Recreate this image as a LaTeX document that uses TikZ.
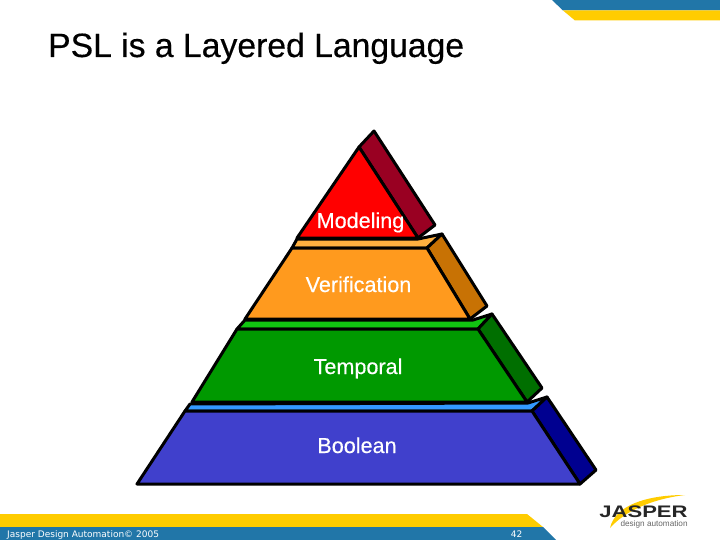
\documentclass[tikz,border=0pt]{standalone}
\usepackage{graphicx}
\usepackage{fontspec}
\setmainfont{Liberation Sans}
\newfontfamily\heavyfont[FakeBold=0.35]{Liberation Sans}
\newfontfamily\footfont{DejaVu Sans}
\usetikzlibrary{positioning}

\definecolor{jasperblue}{HTML}{2176A8}
\definecolor{jasperyellow}{HTML}{FFCC00}
\definecolor{redfront}{HTML}{FF0000}
\definecolor{redside}{HTML}{990022}
\definecolor{orangefront}{HTML}{FF9A1E}
\definecolor{orangetop}{HTML}{FFB040}
\definecolor{orangeside}{HTML}{C87204}
\definecolor{greenfront}{HTML}{009900}
\definecolor{greentop}{HTML}{11C411}
\definecolor{greenside}{HTML}{006F00}
\definecolor{bluefront}{HTML}{4040CC}
\definecolor{bluetop}{HTML}{3399FF}
\definecolor{blueside}{HTML}{000090}

\tikzset{
  face/.style={draw=black, line width=3pt, line join=round},
  layer/.style={anchor=base, text=white, font=\heavyfont\fontsize{21.6}{26}\selectfont, inner sep=0pt},
  footer/.style={anchor=base, text=white, font=\footfont\fontsize{9}{11}\selectfont, inner sep=0pt}
}

\begin{document}
\begin{tikzpicture}[x=1pt, y=-1pt]
    \useasboundingbox (0,0) rectangle (720,540);

    % bands
    \fill[jasperblue] (552,0) -- (720,0) -- (720,10.5) -- (563,10.5) -- cycle;
    \fill[jasperyellow] (563,10.5) -- (720,10.5) -- (720,20.5) -- (575,20.5) -- cycle;
    \fill[jasperyellow] (0,514) -- (527,514) -- (543,527) -- (0,527) -- cycle;
    \fill[jasperblue] (0,527) -- (543,527) -- (556,540) -- (0,540) -- cycle;

    \node[anchor=base west, inner sep=0pt, font=\heavyfont\fontsize{33.7}{40}\selectfont] (title) at (48,57) {PSL is a Layered Language};

    % boolean
    \filldraw[face, fill=bluetop] (190,404) -- (528,403) -- (547,397) -- (532,411) -- (185,411) -- cycle;
    \filldraw[face, fill=blueside] (532,411) -- (547,397) -- (596,470) -- (580,484) -- cycle;
    \filldraw[face, fill=bluefront] (185,411) -- (532,411) -- (580,484) -- (137,484) -- cycle;

    % temporal
    \filldraw[face, fill=greentop] (245,320) -- (473,320) -- (492,314) -- (478,329) -- (237,329) -- cycle;
    \filldraw[face, fill=greenside] (478,329) -- (492,314) -- (542,388) -- (527,402) -- cycle;
    \filldraw[face, fill=greenfront] (237,329) -- (478,329) -- (527,402) -- (192,402) -- cycle;

    % verification
    \filldraw[face, fill=orangetop] (297,239) -- (418,239) -- (442,234) -- (427,248) -- (292,248) -- cycle;
    \filldraw[face, fill=orangeside] (427,248) -- (442,234) -- (487,306) -- (470,319) -- cycle;
    \filldraw[face, fill=orangefront] (292,248) -- (427,248) -- (470,319) -- (245,319) -- cycle;

    % modeling
    \filldraw[face, fill=redside] (359,147) -- (374,131) -- (435,225) -- (418,238) -- cycle;
    \filldraw[face, fill=redfront] (359,147) -- (418,238) -- (297,238) -- cycle;

    \node[layer] (modeling) at (360.5,228) {Modeling};
    \node[layer] (verification) at (358.5,292) {Verification};
    \node[layer] (temporal) at (358,374) {Temporal};
    \node[layer] (boolean) at (357,453) {Boolean};

    % logo
    \fill[jasperyellow] (610,528) .. controls (615,506) and (645,495) .. (685,495) .. controls (652,499) and (625,511) .. cycle;
    \node[anchor=base, inner sep=0pt, text=black!85, font=\fontsize{16.7}{20}\selectfont\bfseries] (jasper) at (643.5,517) {\scalebox{1.32}[1]{JASPER}};
    \node[inner sep=0pt, text=black!60, font=\fontsize{8.2}{10}\selectfont, below=3.5pt of jasper.base east, anchor=north east] (automation) {design automation};

    \node[footer, anchor=base west] (copyright) at (7,537) {Jasper Design Automation© 2005};
    \node[footer] (page) at (516.5,537) {42};
\end{tikzpicture}
\end{document}
